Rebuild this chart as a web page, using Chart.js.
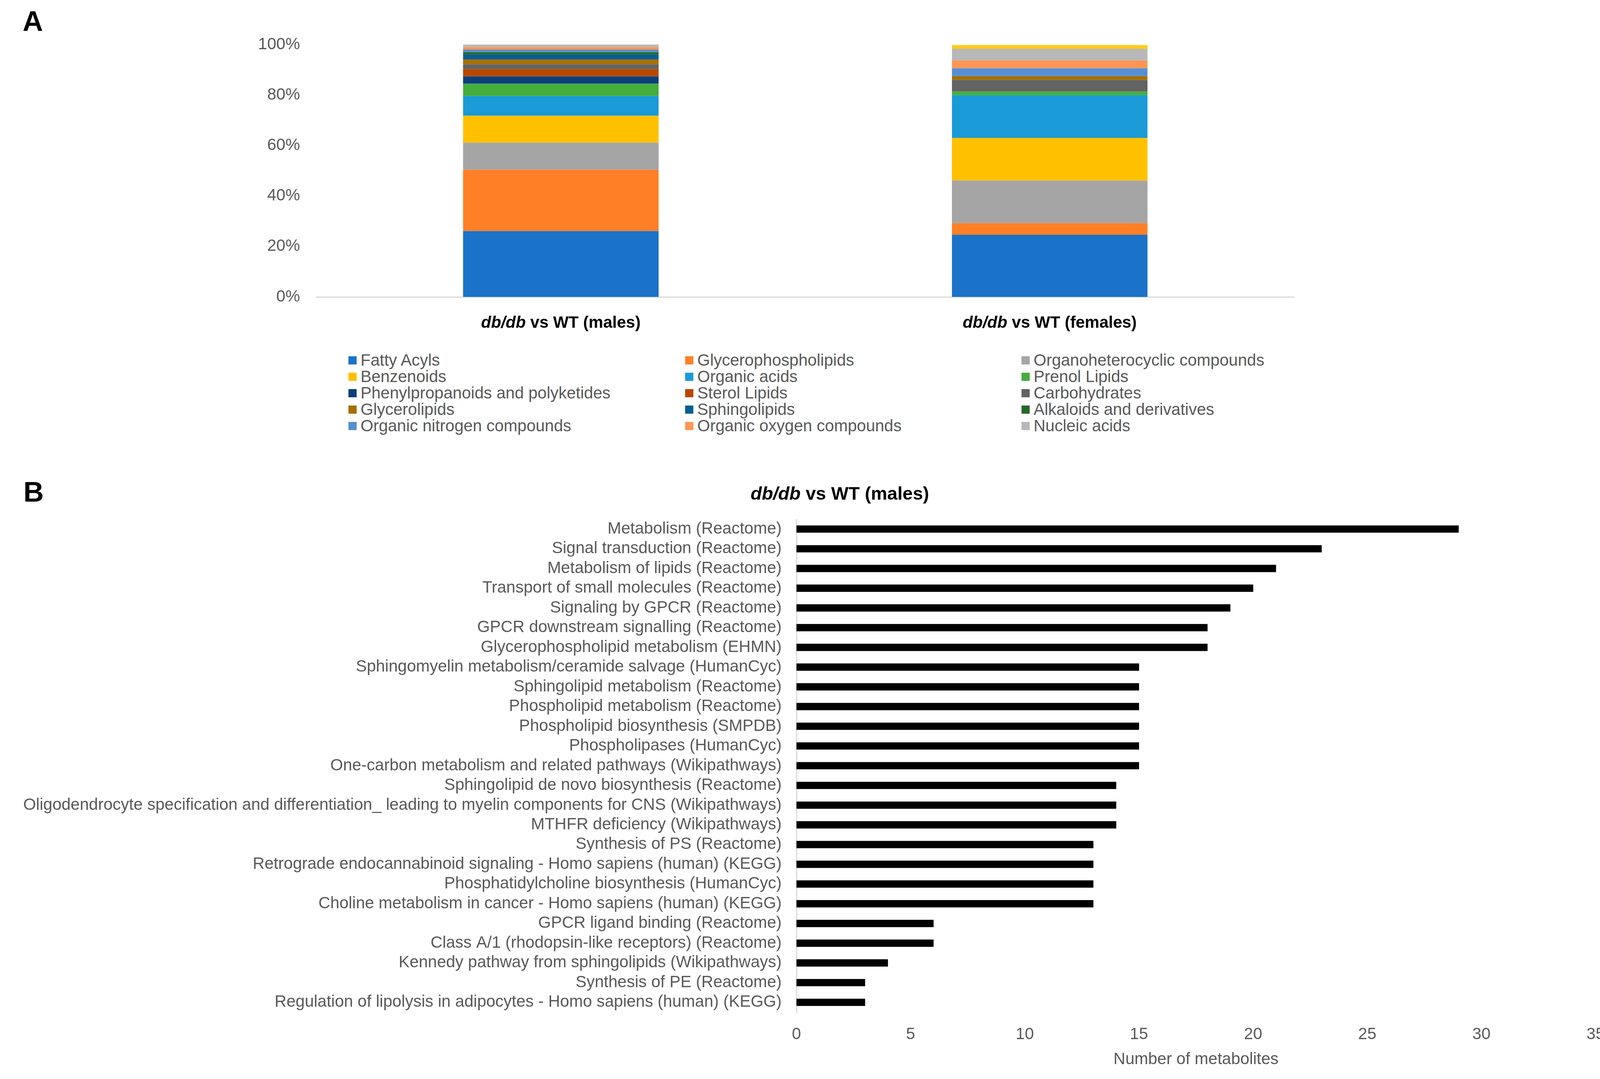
<!DOCTYPE html>
<html>
<head>
<meta charset="utf-8">
<script src="https://cdn.jsdelivr.net/npm/chart.js@4.4.1/dist/chart.umd.min.js"></script>
<style>
  body { margin: 0; background: #fff; }
  #page { position: relative; width: 4140px; height: 2762px; background: #fff; overflow: hidden;
          font-family: 'Liberation Sans', Arial, sans-serif; }
  .panel { position: absolute; font-size: 72px; line-height: 72px; font-weight: bold; color: #000; }
  canvas { position: absolute; left: 0; }
  .mark { position: absolute; width: 21px; height: 21px; }
  .leg { position: absolute; font-size: 42px; line-height: 42px; color: #595959; white-space: nowrap; }
</style>
</head>
<body>
<div id="page">
  <div class="panel" style="left:58px; top:18px;">A</div>
  <div class="panel" style="left:60px; top:1223px;">B</div>
  <canvas id="classChart" width="4140" height="880" style="top:0; width:4140px; height:880px;"></canvas>
  <div id="legendA"></div>
  <canvas id="pathwayChart" width="4140" height="1542" style="top:1220px; width:4140px; height:1542px;"></canvas>
</div>
<script>
// Panel A : classes chimiques (% des métabolites)
const groups = ['db/db vs WT (males)', 'db/db vs WT (females)'];
const classNames = [
  'Fatty Acyls', 'Glycerophospholipids', 'Organoheterocyclic compounds',
  'Benzenoids', 'Organic acids', 'Prenol Lipids',
  'Phenylpropanoids and polyketides', 'Sterol Lipids', 'Carbohydrates',
  'Glycerolipids', 'Sphingolipids', 'Alkaloids and derivatives',
  'Organic nitrogen compounds', 'Organic oxygen compounds', 'Nucleic acids',
  ''
];
const classColors = [
  '#1a73c9', '#ff7f27', '#a5a5a5',
  '#ffc000', '#1a9bd7', '#44ae3c',
  '#0b3f7c', '#b84800', '#636363',
  '#a57000', '#065f96', '#26682a',
  '#5590d4', '#ff9654', '#b8b8b8',
  '#ffcc1a'
];
const malesPct   = [26.1, 24.3, 10.7, 10.7, 7.8, 4.9, 2.9, 2.9, 1.9, 1.9, 1.9, 1.0, 1.0, 1.0, 1.0, 0];
const femalesPct = [24.6, 4.6, 16.9, 16.9, 16.9, 1.5, 0, 0, 4.6, 1.5, 0, 0, 3.1, 3.1, 4.6, 1.5];
const pctTicks = [0, 20, 40, 60, 80, 100];

// Panel B : voies enrichies
const pathwayLabels = [
  'Metabolism (Reactome)',
  'Signal transduction (Reactome)',
  'Metabolism of lipids (Reactome)',
  'Transport of small molecules (Reactome)',
  'Signaling by GPCR (Reactome)',
  'GPCR downstream signalling (Reactome)',
  'Glycerophospholipid metabolism (EHMN)',
  'Sphingomyelin metabolism/ceramide salvage (HumanCyc)',
  'Sphingolipid metabolism (Reactome)',
  'Phospholipid metabolism (Reactome)',
  'Phospholipid biosynthesis (SMPDB)',
  'Phospholipases (HumanCyc)',
  'One-carbon metabolism and related pathways (Wikipathways)',
  'Sphingolipid de novo biosynthesis (Reactome)',
  'Oligodendrocyte specification and differentiation_ leading to myelin components for CNS (Wikipathways)',
  'MTHFR deficiency (Wikipathways)',
  'Synthesis of PS (Reactome)',
  'Retrograde endocannabinoid signaling - Homo sapiens (human) (KEGG)',
  'Phosphatidylcholine biosynthesis (HumanCyc)',
  'Choline metabolism in cancer - Homo sapiens (human) (KEGG)',
  'GPCR ligand binding (Reactome)',
  'Class A/1 (rhodopsin-like receptors) (Reactome)',
  'Kennedy pathway from sphingolipids (Wikipathways)',
  'Synthesis of PE (Reactome)',
  'Regulation of lipolysis in adipocytes - Homo sapiens (human) (KEGG)'
];
const pathwayCounts = [29, 23, 21, 20, 19, 18, 18, 15, 15, 15, 15, 15, 15, 14, 14, 14, 13, 13, 13, 13, 6, 6, 4, 3, 3];
const titleB = 'db/db vs WT (males)';

const FONT = "'Liberation Sans', Arial, sans-serif";
Chart.defaults.font.family = FONT;
Chart.defaults.color = '#595959';

// texte "db/db" en italique, le reste en gras droit
const drawMixed = (ctx, text, cx, cy, size) => {
    const cut = text.indexOf(' ');
    const ital = text.slice(0, cut);
    const rest = text.slice(cut);
    ctx.save();
    ctx.fillStyle = '#000';
    ctx.textBaseline = 'middle';
    ctx.textAlign = 'left';
    ctx.font = 'italic bold ' + size + 'px ' + FONT;
    const w1 = ctx.measureText(ital).width;
    ctx.font = 'bold ' + size + 'px ' + FONT;
    const w2 = ctx.measureText(rest).width;
    let x = cx - (w1 + w2) / 2;
    ctx.font = 'italic bold ' + size + 'px ' + FONT;
    ctx.fillText(ital, x, cy);
    ctx.font = 'bold ' + size + 'px ' + FONT;
    ctx.fillText(rest, x + w1, cy);
    ctx.restore();
};

const groupLabelsPlugin = {
    id: 'groupLabels',
    afterDraw(chart) {
        const xs = chart.scales.x;
        groups.forEach((g, i) => drawMixed(chart.ctx, g, xs.getPixelForValue(i), 827, 42));
    }
};

const classGraph = () => {
    const ctx = document.getElementById('classChart');
    const data = {
        labels: groups,
        datasets: classNames.map((name, i) => ({
            label: name,
            data: [malesPct[i], femalesPct[i]],
            backgroundColor: classColors[i],
            borderWidth: 0,
            barPercentage: 0.4,
            categoryPercentage: 1.0
        }))
    };
    new Chart(ctx, {
        type: 'bar',
        data: data,
        plugins: [groupLabelsPlugin],
        options: {
            responsive: false,
            devicePixelRatio: 1,
            animation: false,
            layout: { padding: { left: 0, right: 827, top: 114, bottom: 0 } },
            scales: {
                x: {
                    stacked: true,
                    grid: { display: false, drawTicks: false },
                    border: { color: '#d9d9d9', width: 3 },
                    ticks: { display: false },
                    afterFit: (s) => { s.height = 120; }
                },
                y: {
                    stacked: true,
                    min: 0,
                    max: 100,
                    afterBuildTicks: (s) => { s.ticks = pctTicks.map(v => ({ value: v })); },
                    grid: { display: false, drawTicks: false },
                    border: { display: false },
                    ticks: {
                        padding: 42,
                        color: '#595959',
                        font: { size: 42 },
                        callback: (v) => v + '%'
                    },
                    afterFit: (s) => { s.width = 810; }
                }
            },
            plugins: {
                legend: { display: false },
                tooltip: { enabled: false }
            }
        }
    });
};

// légende en 3 colonnes, ordre ligne par ligne
const makeLegend = () => {
    const box = document.getElementById('legendA');
    const colX = [892, 1754, 2615];
    const rowY = [922, 964, 1006, 1048, 1090];
    for (let i = 0; i < 15; i++) {
        const c = i % 3;
        const r = Math.floor(i / 3);
        const m = document.createElement('div');
        m.className = 'mark';
        m.style.left = colX[c] + 'px';
        m.style.top = (rowY[r] - 10) + 'px';
        m.style.background = classColors[i];
        box.appendChild(m);
        const t = document.createElement('div');
        t.className = 'leg';
        t.style.left = (colX[c] + 31) + 'px';
        t.style.top = (rowY[r] - 21) + 'px';
        t.textContent = classNames[i];
        box.appendChild(t);
    }
};

const titlePlugin = {
    id: 'titleB',
    afterDraw(chart) {
        drawMixed(chart.ctx, titleB, 2150, 46, 47);
    }
};

const pathwayGraph = () => {
    const ctx = document.getElementById('pathwayChart');
    const data = {
        labels: pathwayLabels,
        datasets: [{
            data: pathwayCounts,
            backgroundColor: '#000000',
            borderWidth: 0,
            barThickness: 18
        }]
    };
    new Chart(ctx, {
        type: 'bar',
        data: data,
        plugins: [titlePlugin],
        options: {
            indexAxis: 'y',
            responsive: false,
            devicePixelRatio: 1,
            animation: false,
            layout: { padding: { left: 0, right: 43, top: 109, bottom: 0 } },
            scales: {
                x: {
                    min: 0,
                    max: 35,
                    ticks: { stepSize: 5, padding: 32, color: '#595959', font: { size: 42 } },
                    grid: { display: false, drawTicks: false },
                    border: { display: false },
                    title: {
                        display: true,
                        text: 'Number of metabolites',
                        color: '#595959',
                        font: { size: 42 },
                        padding: { top: 0, bottom: 24 }
                    },
                    afterFit: (s) => { s.height = 171; }
                },
                y: {
                    grid: { display: false, drawTicks: false },
                    border: { color: '#d9d9d9', width: 3 },
                    ticks: { padding: 38, color: '#595959', font: { size: 42 }, autoSkip: false },
                    afterFit: (s) => { s.width = 2039; }
                }
            },
            plugins: {
                legend: { display: false },
                tooltip: { enabled: false }
            }
        }
    });
};

classGraph();
makeLegend();
pathwayGraph();
</script>
</body>
</html>
